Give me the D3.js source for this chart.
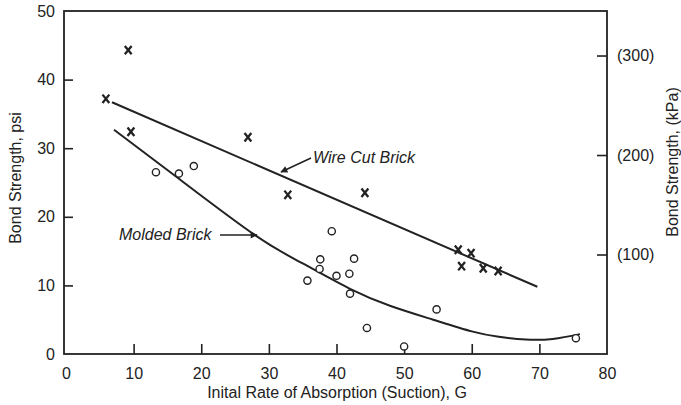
<!DOCTYPE html>
<html>
<head>
<meta charset="utf-8">
<script src="https://cdn.jsdelivr.net/npm/d3@7"></script>
<style>
  html, body { margin: 0; padding: 0; background: #fff; }
  svg { display: block; }
  text { font-family: "Liberation Sans", Arial, Helvetica, sans-serif; fill: #222; }
</style>
</head>
<body>
<svg id="chart" width="681" height="405"></svg>
<script>
// ---- Data ----
const xTicks = [0, 10, 20, 30, 40, 50, 60, 70, 80];
const yTicks = [0, 10, 20, 30, 40, 50];
const kpaTicks = [100, 200, 300];
const kpaTickLabels = ["(100)", "(200)", "(300)"];

// Wire cut brick (x markers)
const wireX = [9.2, 5.9, 9.6, 26.9, 32.8, 44.2, 58.0, 59.9, 58.5, 61.7, 63.9];
const wireY = [44.3, 37.2, 32.4, 31.6, 23.2, 23.5, 15.2, 14.7, 12.8, 12.5, 12.1];
// Wire cut straight fit line endpoints
const wireLineX = [6.8, 69.7];
const wireLineY = [36.7, 9.8];

// Molded brick (open circles)
const moldX = [13.3, 16.7, 18.9, 39.3, 37.6, 37.5, 35.7, 40.0, 41.9, 42.6, 42.0, 44.5, 54.8, 50.0, 75.4];
const moldY = [26.5, 26.3, 27.4, 17.9, 13.8, 12.4, 10.7, 11.4, 11.7, 13.9, 8.8, 3.8, 6.5, 1.1, 2.3];
// Molded brick fitted curve
const moldCurveX = [7.1, 16.9, 28.0, 35.0, 42.0, 48.0, 54.3, 60.0, 64.0, 68.0, 72.0, 76.0];
const moldCurveY = [32.7, 25.4, 17.3, 13.2, 9.5, 7.0, 5.0, 3.3, 2.5, 2.1, 2.2, 2.9];

const PSI_TO_KPA = 6.895;

// ---- Layout ----
const svg = d3.select("#chart");
const L = 64, R = 607, T = 11, B = 354;
const x = d3.scaleLinear().domain([0, 80]).range([66, 607]);
const y = d3.scaleLinear().domain([0, 50]).range([B, T]);
const yK = d3.scaleLinear().domain([0, 50 * PSI_TO_KPA]).range([B, T]);

const ink = "#222";

svg.append("rect").attr("width", 681).attr("height", 405).attr("fill", "#fff");

// Frame
svg.append("rect")
  .attr("x", L).attr("y", T).attr("width", R - L).attr("height", B - T)
  .attr("fill", "none").attr("stroke", ink).attr("stroke-width", 1.8);

// Bottom axis (ticks inward)
const xAxis = d3.axisBottom(x).tickValues(xTicks).tickSize(-10).tickPadding(14)
  .tickFormat(d3.format("d"));
const gx = svg.append("g").attr("transform", `translate(0,${B})`).call(xAxis);
gx.select(".domain").remove();
gx.selectAll(".tick line").attr("stroke", ink).attr("stroke-width", 1.6)
  .filter(d => d === 0 || d === 80).remove();
gx.selectAll(".tick text").attr("font-size", 16).attr("fill", ink);

// Left axis (ticks inward)
const yAxis = d3.axisLeft(y).tickValues(yTicks).tickSize(-9).tickPadding(9)
  .tickFormat(d3.format("d"));
const gy = svg.append("g").attr("transform", `translate(${L},0)`).call(yAxis);
gy.select(".domain").remove();
gy.selectAll(".tick line").attr("stroke", ink).attr("stroke-width", 1.6)
  .filter(d => d === 0 || d === 50).remove();
gy.selectAll(".tick text").attr("font-size", 16).attr("fill", ink);

// Right axis in kPa (ticks inward)
const kAxis = d3.axisRight(yK).tickValues(kpaTicks).tickSize(-10).tickPadding(10)
  .tickFormat((d, i) => kpaTickLabels[i]);
const gk = svg.append("g").attr("transform", `translate(${R},0)`).call(kAxis);
gk.select(".domain").remove();
gk.selectAll(".tick line").attr("stroke", ink).attr("stroke-width", 1.6);
gk.selectAll(".tick text").attr("font-size", 16).attr("fill", ink);

// Axis titles
svg.append("text").attr("x", 337).attr("y", 398).attr("text-anchor", "middle")
  .attr("font-size", 16).text("Inital Rate of Absorption (Suction), G");
svg.append("text").attr("transform", "translate(21,178) rotate(-90)")
  .attr("text-anchor", "middle").attr("font-size", 16).text("Bond Strength, psi");
svg.append("text").attr("transform", "translate(678,162) rotate(-90)")
  .attr("text-anchor", "middle").attr("font-size", 16).text("Bond Strength, (kPa)");

// Wire cut fit line
const line = d3.line().x(d => x(d[0])).y(d => y(d[1]));
svg.append("path")
  .attr("d", line(wireLineX.map((v, i) => [v, wireLineY[i]])))
  .attr("fill", "none").attr("stroke", ink).attr("stroke-width", 2);

// Molded fit curve
const curve = d3.line().x(d => x(d[0])).y(d => y(d[1])).curve(d3.curveNatural);
svg.append("path")
  .attr("d", curve(moldCurveX.map((v, i) => [v, moldCurveY[i]])))
  .attr("fill", "none").attr("stroke", ink).attr("stroke-width", 2);

// Wire cut markers (x)
svg.append("g").selectAll("path")
  .data(wireX.map((v, i) => [v, wireY[i]]))
  .join("path")
  .attr("d", d => {
    const cx = x(d[0]), cy = y(d[1]);
    return `M${cx - 3.4},${cy - 4.2}L${cx + 3.4},${cy + 4.2}M${cx + 3.4},${cy - 4.2}L${cx - 3.4},${cy + 4.2}`;
  })
  .attr("stroke", ink).attr("stroke-width", 2.3).attr("fill", "none");

// Molded markers (o)
svg.append("g").selectAll("circle")
  .data(moldX.map((v, i) => [v, moldY[i]]))
  .join("circle")
  .attr("cx", d => x(d[0])).attr("cy", d => y(d[1])).attr("r", 3.6)
  .attr("fill", "#fff").attr("stroke", ink).attr("stroke-width", 1.4);

// Arrow marker
svg.append("defs").append("marker")
  .attr("id", "arrow").attr("viewBox", "0 0 10 10").attr("refX", 9).attr("refY", 5)
  .attr("markerWidth", 9).attr("markerHeight", 7).attr("markerUnits", "userSpaceOnUse")
  .attr("orient", "auto")
  .append("path").attr("d", "M0,0L10,5L0,10Z").attr("fill", ink);

// Annotations
svg.append("text").attr("x", 313).attr("y", 163).attr("font-size", 16)
  .attr("font-style", "italic").text("Wire Cut Brick");
svg.append("line").attr("x1", 311).attr("y1", 158).attr("x2", 281).attr("y2", 172)
  .attr("stroke", ink).attr("stroke-width", 1.6).attr("marker-end", "url(#arrow)");

svg.append("text").attr("x", 119).attr("y", 240).attr("font-size", 16)
  .attr("font-style", "italic").text("Molded Brick");
svg.append("line").attr("x1", 220).attr("y1", 235).attr("x2", 257).attr("y2", 235)
  .attr("stroke", ink).attr("stroke-width", 1.6).attr("marker-end", "url(#arrow)");
</script>
</body>
</html>
